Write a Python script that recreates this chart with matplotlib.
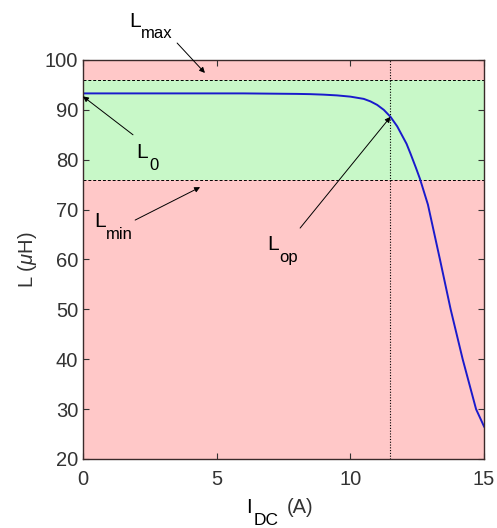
import matplotlib
matplotlib.use("Agg")
import matplotlib.pyplot as plt

plt.rcParams['font.family'] = ['Liberation Sans', 'DejaVu Sans']
plt.rcParams['mathtext.fontset'] = 'custom'
plt.rcParams['mathtext.rm'] = 'Liberation Sans'
plt.rcParams['mathtext.it'] = 'Liberation Sans:italic'

# Curva de inductancia frente a corriente DC
i_dc = [0, 2, 4, 6, 7, 8, 8.5, 9, 9.5, 10, 10.5, 10.75, 11, 11.25, 11.5,
        11.75, 11.9, 12.1, 12.25, 12.45, 12.6, 12.9, 13.35, 13.75, 14.2, 14.7, 15]
l_uh = [93.3, 93.3, 93.3, 93.3, 93.25, 93.2, 93.15, 93.05, 92.9, 92.65, 92.2, 91.7, 91.0, 90.0, 88.6,
        86.7, 85.2, 83.2, 81.2, 78.4, 76.2, 71.0, 60, 50, 40, 30, 26.5]

L_max = 96
L_min = 76
L_0 = 92.7
I_op = 11.5
L_op = 88.6

fig = plt.figure(figsize=(4.97, 5.28), dpi=100)
ax = fig.add_axes([0.167, 0.1307, 0.807, 0.7557])

# Zonas: rojo fuera de rango, verde dentro
ax.axhspan(20, L_min, color='#ffc8c8', lw=0)
ax.axhspan(L_min, L_max, color='#c8f8c8', lw=0)
ax.axhspan(L_max, 100, color='#ffc8c8', lw=0)

ax.axhline(L_max, color='k', ls=(0, (3, 2)), lw=0.7)
ax.axhline(L_min, color='k', ls=(0, (3, 2)), lw=0.7)
ax.axvline(I_op, color='k', ls=(0, (1, 1.5)), lw=0.8)

ax.plot(i_dc, l_uh, color='#1a1acc', lw=1.4)

# Flechas
arr = dict(arrowstyle='-|>', color='k', lw=0.7, mutation_scale=8, shrinkA=0, shrinkB=0)
ax.annotate('', xy=(4.56, 97.4), xytext=(3.52, 103.4), arrowprops=arr, annotation_clip=False)
ax.annotate('', xy=(0, L_0), xytext=(1.87, 85.0), arrowprops=arr)
ax.annotate('', xy=(4.38, 74.5), xytext=(1.95, 67.9), arrowprops=arr)
ax.annotate('', xy=(I_op, L_op), xytext=(8.12, 66.3), arrowprops=arr)


# Texto con subíndice grande al estilo MATLAB
def etiqueta(x, y, main, sub, coords=None, fs=15, fs_sub=12, dx=None):
    tr = coords if coords is not None else ax.transData
    ax.text(x, y, main, transform=tr, fontsize=fs, va='baseline', ha='left', clip_on=False)
    if dx is None:
        dx = fs * 0.556 + 0.6
    ax.annotate(sub, xy=(x, y), xycoords=tr, xytext=(dx, -8.4), textcoords='offset points',
                fontsize=fs_sub, va='baseline', ha='left', annotation_clip=False)


etiqueta(1.72, 106.7, 'L', 'max')
etiqueta(2.0, 80.3, 'L', '0')
etiqueta(0.41, 66.5, 'L', 'min')
etiqueta(6.88, 61.9, 'L', 'op')

ax.set_xlim(0, 15)
ax.set_ylim(20, 100)
ax.set_xticks([0, 5, 10, 15])
ax.set_yticks([20, 30, 40, 50, 60, 70, 80, 90, 100])
ax.tick_params(direction='in', top=True, right=True, labelsize=14.5, length=4, width=0.8, colors='#333333')
ax.tick_params(axis='x', pad=8)
for s in ax.spines.values():
    s.set_color('#3a2a2a')
    s.set_linewidth(1.0)

# Etiqueta del eje x: I_DC (A)
etiqueta(0.4065, -0.136, 'I', 'DC', coords=ax.transAxes, fs=14.5, fs_sub=12.5, dx=5.2)
ax.text(0.508, -0.136, '(A)', transform=ax.transAxes, fontsize=14.5, va='baseline', ha='left',
        color='#333333')
ax.set_ylabel(r'L ($\mu$H)', fontsize=14.5, color='#333333')

fig.savefig('out.png', dpi=100)
